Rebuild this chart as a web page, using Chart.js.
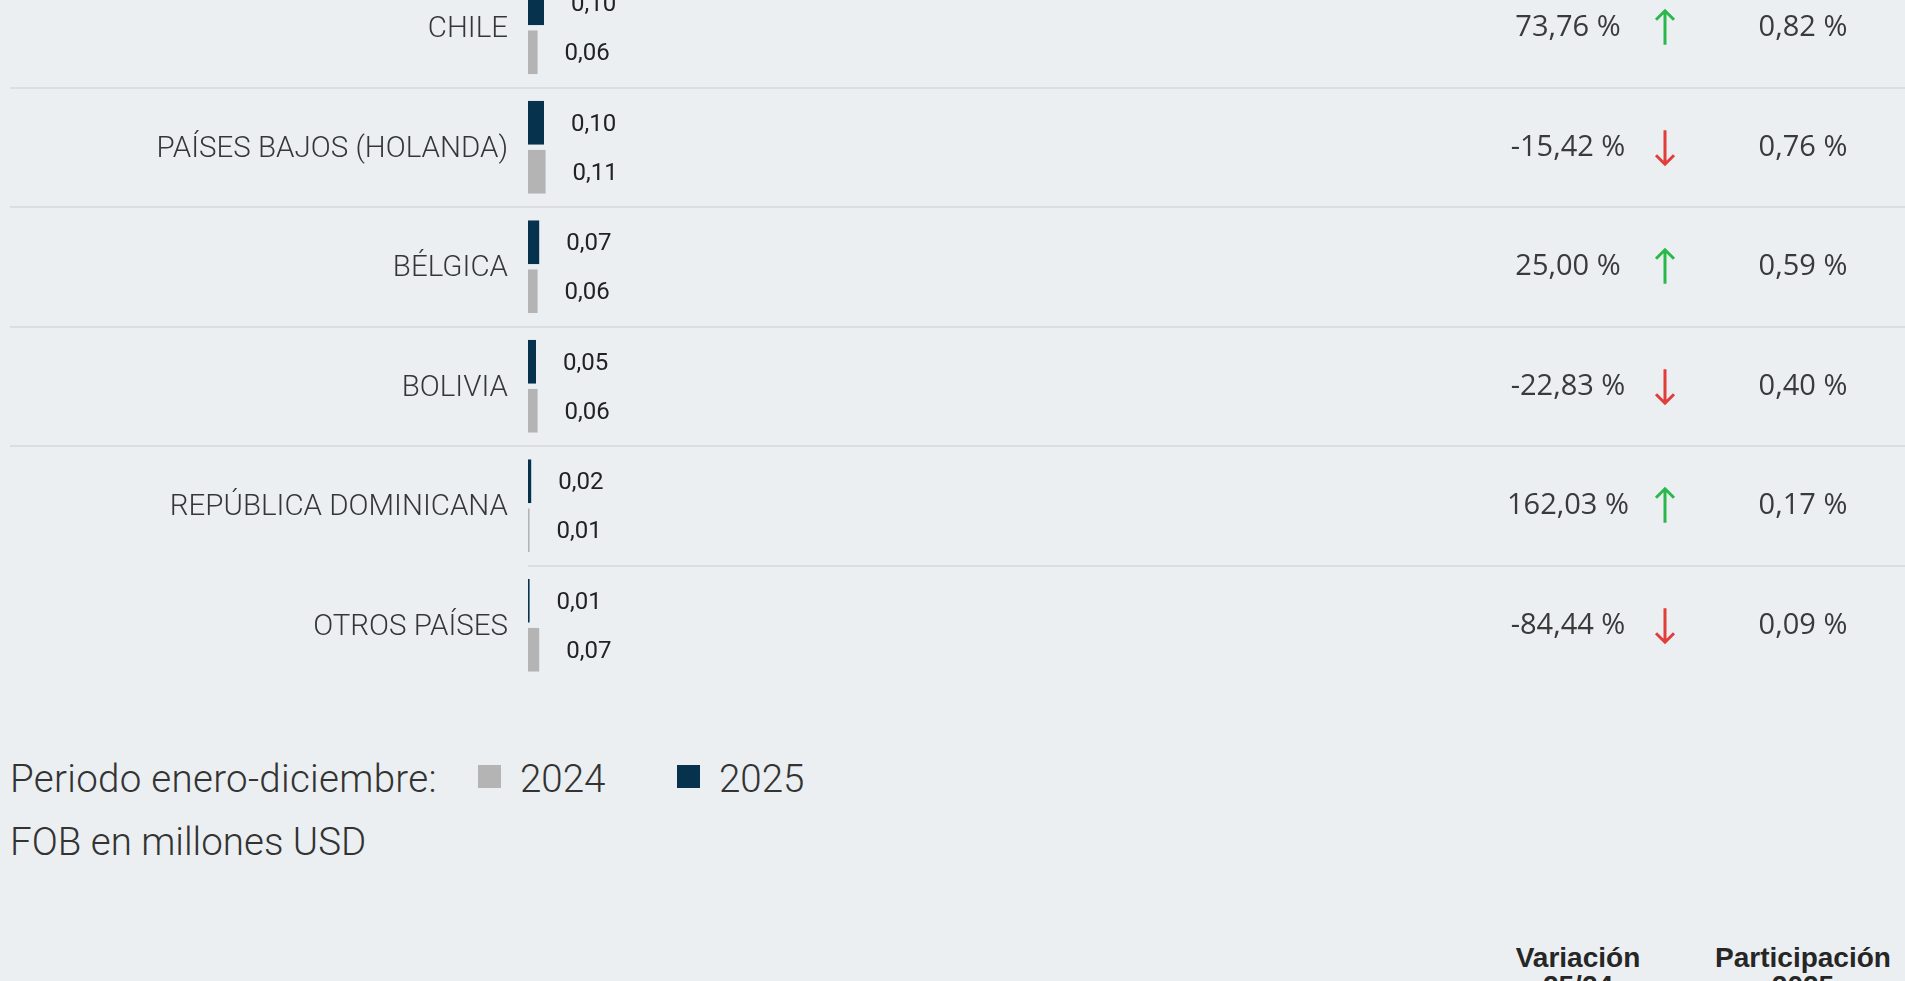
<!DOCTYPE html>
<html lang="es">
<head>
    <meta charset="UTF-8">
    <title>Exportaciones por país</title>
    <script src="https://cdn.jsdelivr.net/npm/chart.js"></script>
    <style>
        html, body { margin: 0; padding: 0; }
        body {
            width: 1905px;
            height: 981px;
            overflow: hidden;
            position: relative;
            background: #ebeff2;
            font-family: Roboto, sans-serif;
            color: #333;
        }
        .chart-box {
            position: absolute;
            left: 0;
            top: -32px;
            width: 1905px;
            height: 717px;
        }
        .legend {
            position: absolute;
            left: 10px;
            top: 756px;
            font-size: 38.5px;
            line-height: normal;
            font-weight: 300;
            white-space: nowrap;
        }
        .legend span { position: absolute; top: 0; }
        .legend .sq { width: 23px; height: 23px; top: 9px; }
        .unit {
            position: absolute;
            left: 10px;
            top: 819px;
            font-size: 38.5px;
            font-weight: 300;
            white-space: nowrap;
        }
        .col-head {
            position: absolute;
            top: 944px;
            font-family: "Liberation Sans", Arial, sans-serif;
            font-weight: bold;
            font-size: 28px;
            line-height: 28px;
            text-align: center;
            color: #262626;
            width: 240px;
        }
    </style>
</head>
<body>
    <div class="chart-box"><canvas id="paises"></canvas></div>

    <div class="legend">
        <span style="left:0; letter-spacing:0.3px">Periodo enero-diciembre:</span>
        <span class="sq" style="left:468px; background:#b4b4b4"></span>
        <span style="left:510px">2024</span>
        <span class="sq" style="left:667px; background:#06324e"></span>
        <span style="left:709px">2025</span>
    </div>
    <div class="unit">FOB en millones USD</div>

    <div class="col-head" style="left:1458px">Variación<br>25/24</div>
    <div class="col-head" style="left:1683px">Participación<br>2025</div>

    <script>
        const paises = ['CHILE', 'PAÍSES BAJOS (HOLANDA)', 'BÉLGICA', 'BOLIVIA', 'REPÚBLICA DOMINICANA', 'OTROS PAÍSES'];
        const fob2025 = [0.10, 0.10, 0.07, 0.05, 0.02, 0.01];
        const fob2024 = [0.06, 0.11, 0.06, 0.06, 0.01, 0.07];
        const variacion = [73.76, -15.42, 25.00, -22.83, 162.03, -84.44];
        const participacion = [0.82, 0.76, 0.59, 0.40, 0.17, 0.09];

        const COLOR_2025 = '#06324e';
        const COLOR_2024 = '#b4b4b4';

        function fmt(n) {
            return n.toFixed(2).replace('.', ',');
        }

        function drawArrow(ctx, x, y, up, color) {
            const h = 17;
            const tip = up ? y - h : y + h;
            const dir = up ? 1 : -1;
            ctx.save();
            ctx.strokeStyle = color;
            ctx.lineWidth = 3;
            ctx.beginPath();
            ctx.moveTo(x, up ? y + h : y - h);
            ctx.lineTo(x, tip);
            ctx.moveTo(x - 9, tip + dir * 9);
            ctx.lineTo(x, tip);
            ctx.lineTo(x + 9, tip + dir * 9);
            ctx.stroke();
            ctx.restore();
        }

        // separadores, etiquetas de valor y columnas de la derecha
        const extras = {
            id: 'extras',
            afterDatasetsDraw(chart) {
                const ctx = chart.ctx;
                const yScale = chart.scales.y;
                const right = chart.width;

                ctx.save();
                ctx.strokeStyle = '#dcdddf';
                ctx.lineWidth = 2;
                for (let i = 1; i < paises.length; i++) {
                    const y = Math.round((yScale.getPixelForValue(i - 1) + yScale.getPixelForValue(i)) / 2);
                    const x0 = i === paises.length - 1 ? chart.chartArea.left : 10;
                    ctx.beginPath();
                    ctx.moveTo(x0, y);
                    ctx.lineTo(right, y);
                    ctx.stroke();
                }

                ctx.fillStyle = '#222';
                ctx.font = '400 24px Roboto';
                ctx.textAlign = 'left';
                ctx.textBaseline = 'middle';
                chart.data.datasets.forEach((ds, di) => {
                    chart.getDatasetMeta(di).data.forEach((bar, i) => {
                        ctx.fillText(fmt(ds.data[i]), bar.x + 27, bar.y + 2);
                    });
                });

                ctx.fillStyle = '#3a3a3a';
                ctx.font = '400 29px "Open Sans"';
                ctx.textAlign = 'center';
                paises.forEach((p, i) => {
                    const y = yScale.getPixelForValue(i);
                    ctx.fillText(fmt(variacion[i]) + ' %', 1568, y);
                    ctx.fillText(fmt(participacion[i]) + ' %', 1803, y);
                    const up = variacion[i] >= 0;
                    drawArrow(ctx, 1665, y, up, up ? '#2bb84b' : '#e23d38');
                });
                ctx.restore();
            }
        };

        new Chart(document.getElementById('paises'), {
            type: 'bar',
            data: {
                labels: paises,
                datasets: [
                    { label: '2025', data: fob2025, backgroundColor: COLOR_2025 },
                    { label: '2024', data: fob2024, backgroundColor: COLOR_2024 }
                ]
            },
            options: {
                indexAxis: 'y',
                responsive: true,
                maintainAspectRatio: false,
                animation: false,
                barPercentage: 0.89,
                categoryPercentage: 0.82,
                layout: { padding: { left: 0, right: 417, top: 0, bottom: 0 } },
                plugins: {
                    legend: { display: false },
                    tooltip: { enabled: false }
                },
                scales: {
                    x: { display: false, min: 0, max: 6 },
                    y: {
                        grid: { display: false, drawTicks: false },
                        border: { display: false },
                        ticks: {
                            autoSkip: false,
                            padding: 20,
                            labelOffset: 2,
                            color: '#363636',
                            font: { family: 'Roboto', size: 29.5, weight: '300' }
                        },
                        afterFit(scale) {
                            scale.width = 528;
                            // sin relleno vertical: las filas ocupan todo el alto
                            scale.paddingTop = 0;
                            scale.paddingBottom = 0;
                        }
                    }
                }
            },
            plugins: [extras]
        });
    </script>
</body>
</html>
